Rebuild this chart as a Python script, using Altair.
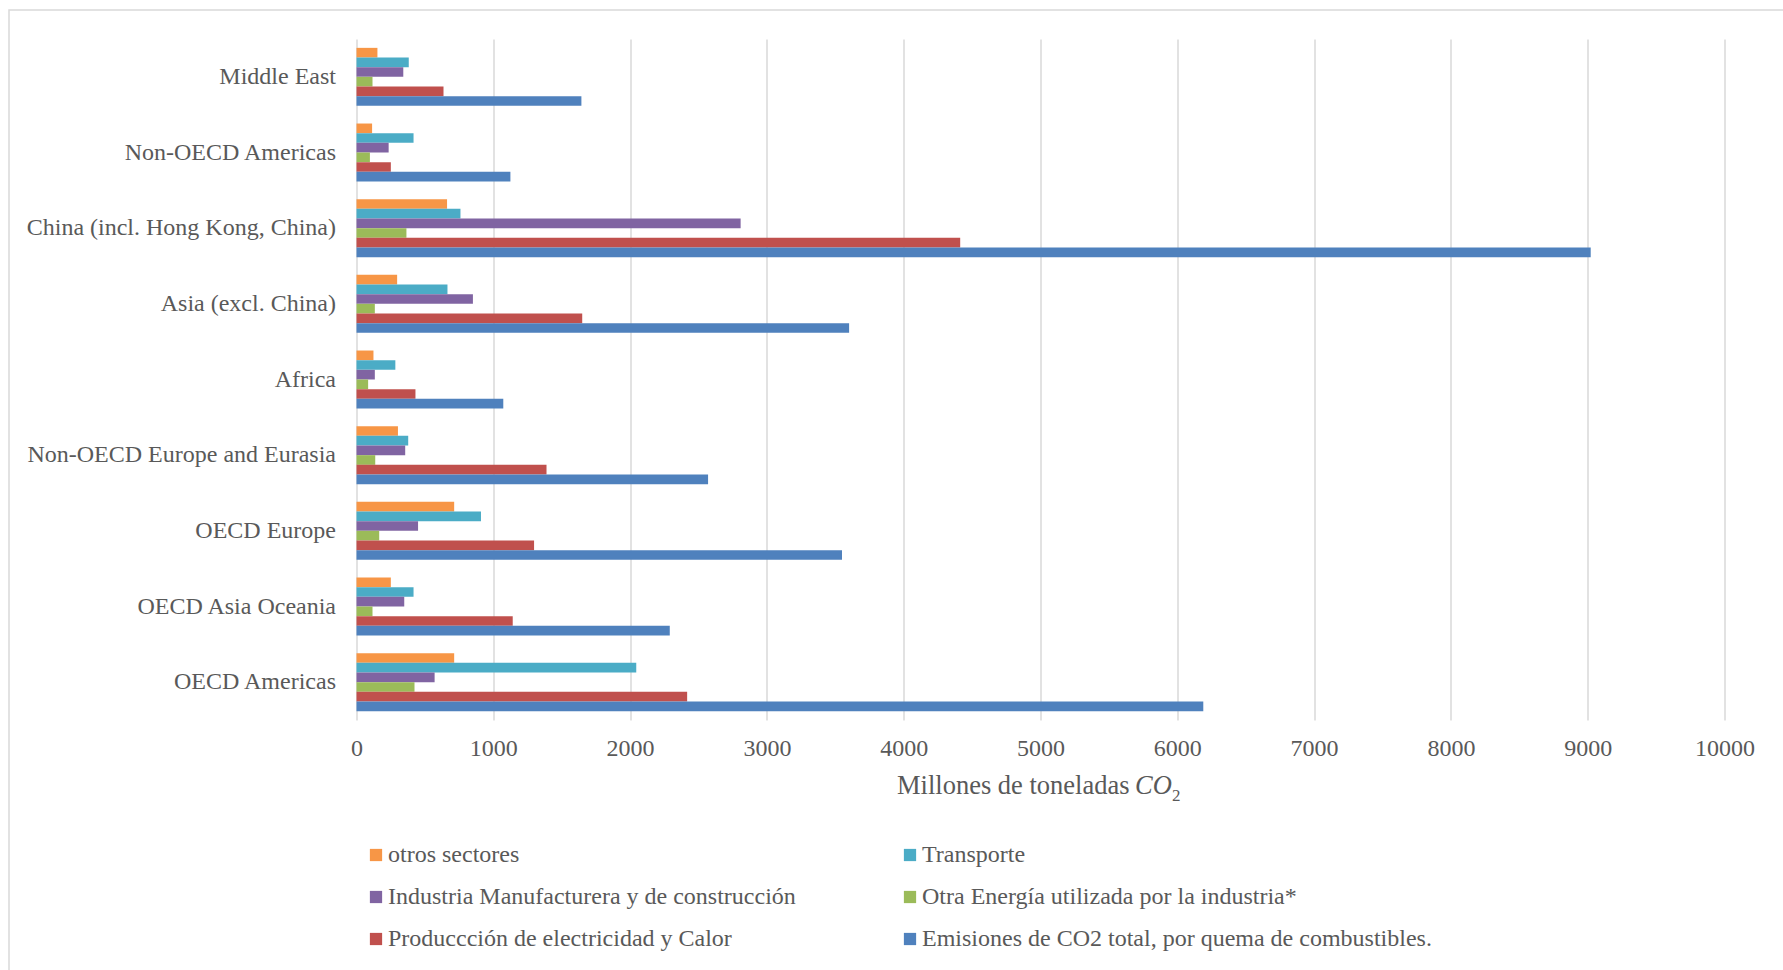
import altair as alt
import pandas as pd

# Regions, listed top to bottom
regions = [
    "Middle East",
    "Non-OECD Americas",
    "China (incl. Hong Kong, China)",
    "Asia (excl. China)",
    "Africa",
    "Non-OECD Europe and Eurasia",
    "OECD Europe",
    "OECD Asia Oceania",
    "OECD Americas",
]

# Sectors, in bar order within each region (top to bottom)
series = [
    "otros sectores",
    "Transporte",
    "Industria Manufacturera y de construcción",
    "Otra Energía utilizada por la industria*",
    "Produccción de electricidad y Calor",
    "Emisiones de CO2 total, por quema de combustibles.",
]
colors = ["#F79646", "#4BACC6", "#8064A2", "#9BBB59", "#C0504D", "#4F81BD"]

# Millones de toneladas de CO2, one list per sector (same order as regions)
otros = [153, 114, 662, 297, 124, 303, 714, 251, 714]
transporte = [382, 417, 760, 665, 284, 378, 910, 417, 2045]
industria = [342, 235, 2808, 851, 134, 356, 450, 349, 571]
otra_energia = [117, 98, 365, 134, 85, 137, 166, 117, 424]
electricidad = [636, 251, 4413, 1650, 431, 1389, 1298, 1142, 2417]
total = [1644, 1125, 9022, 3601, 1073, 2570, 3549, 2290, 6190]

values = [otros, transporte, industria, otra_energia, electricidad, total]

rows = []
for name, vals in zip(series, values):
    for region, v in zip(regions, vals):
        rows.append({"region": region, "sector": name, "value": v})
df = pd.DataFrame(rows)

# The legend fills column by column (3 rows x 2 columns), so its entries are
# ordered so that rows read: otros | Transporte, Industria | Otra, Producción | Emisiones
legend_order = [series[i] for i in (0, 2, 4, 1, 3, 5)]
legend_colors = [colors[i] for i in (0, 2, 4, 1, 3, 5)]

W, H = 1368, 681
TEXT = "#595959"
SERIF = "Liberation Serif"

bars = alt.Chart(df).mark_bar().encode(
    x=alt.X(
        "value:Q",
        scale=alt.Scale(domain=[0, 10000], nice=False),
        axis=alt.Axis(
            values=list(range(0, 10001, 1000)),
            format="d",
            title=None,
            grid=True,
            gridColor="#d9d9d9",
            gridWidth=1.5,
            domain=False,
            ticks=False,
            labelFlush=False,
            labelFont=SERIF,
            labelFontSize=24,
            labelColor=TEXT,
            labelPadding=16,
        ),
    ),
    y=alt.Y(
        "region:N",
        sort=regions,
        scale=alt.Scale(paddingInner=0.234, paddingOuter=0.117),
        axis=alt.Axis(
            title=None,
            domain=False,
            ticks=False,
            grid=False,
            labelFont=SERIF,
            labelFontSize=24,
            labelColor=TEXT,
            labelPadding=21,
            labelLimit=400,
        ),
    ),
    yOffset=alt.YOffset("sector:N", sort=series, scale=alt.Scale(paddingInner=0, paddingOuter=0)),
    color=alt.Color(
        "sector:N",
        scale=alt.Scale(domain=legend_order, range=legend_colors),
        legend=alt.Legend(
            title=None,
            orient="none",
            legendX=7.5,
            legendY=804,
            columns=2,
            gridAlign="all",
            columnPadding=-7,
            rowPadding=18,
            symbolType="square",
            symbolSize=150,
            symbolStrokeWidth=0,
            labelFont=SERIF,
            labelFontSize=24,
            labelColor=TEXT,
            labelOffset=0,
            labelLimit=600,
            padding=0,
        ),
    ),
)

one = pd.DataFrame({"k": [0]})

# Light border around the whole chart area
frame = alt.Chart(one).mark_rect(fill=None, stroke="#d9d9d9", strokeWidth=1.5).encode(
    x=alt.value(-347.5), x2=alt.value(1600), y=alt.value(-29), y2=alt.value(1100)
)

# Axis title: "Millones de toneladas CO₂" with italic CO and subscript 2
title_main = alt.Chart(one).mark_text(
    text="Millones de toneladas", font=SERIF, fontSize=26.5, color=TEXT,
    align="left", baseline="alphabetic",
).encode(x=alt.value(540.5), y=alt.value(755))
title_co = alt.Chart(one).mark_text(
    text="CO", font=SERIF, fontSize=26.5, fontStyle="italic", color=TEXT,
    align="left", baseline="alphabetic",
).encode(x=alt.value(778.5), y=alt.value(755))
title_sub = alt.Chart(one).mark_text(
    text="2", font=SERIF, fontSize=17, color=TEXT,
    align="left", baseline="alphabetic",
).encode(x=alt.value(815.5), y=alt.value(761.5))

chart = (
    alt.layer(frame, bars, title_main, title_co, title_sub)
    .properties(
        width=W,
        height=H,
        autosize=alt.AutoSizeParams(type="none"),
        padding={"left": 356.5, "top": 39, "right": 1783 - 356.5 - W, "bottom": 970 - 39 - H},
        background="white",
    )
    .configure_view(stroke=None)
)

chart.save("out.html", embed_options={"renderer": "svg", "actions": False})
